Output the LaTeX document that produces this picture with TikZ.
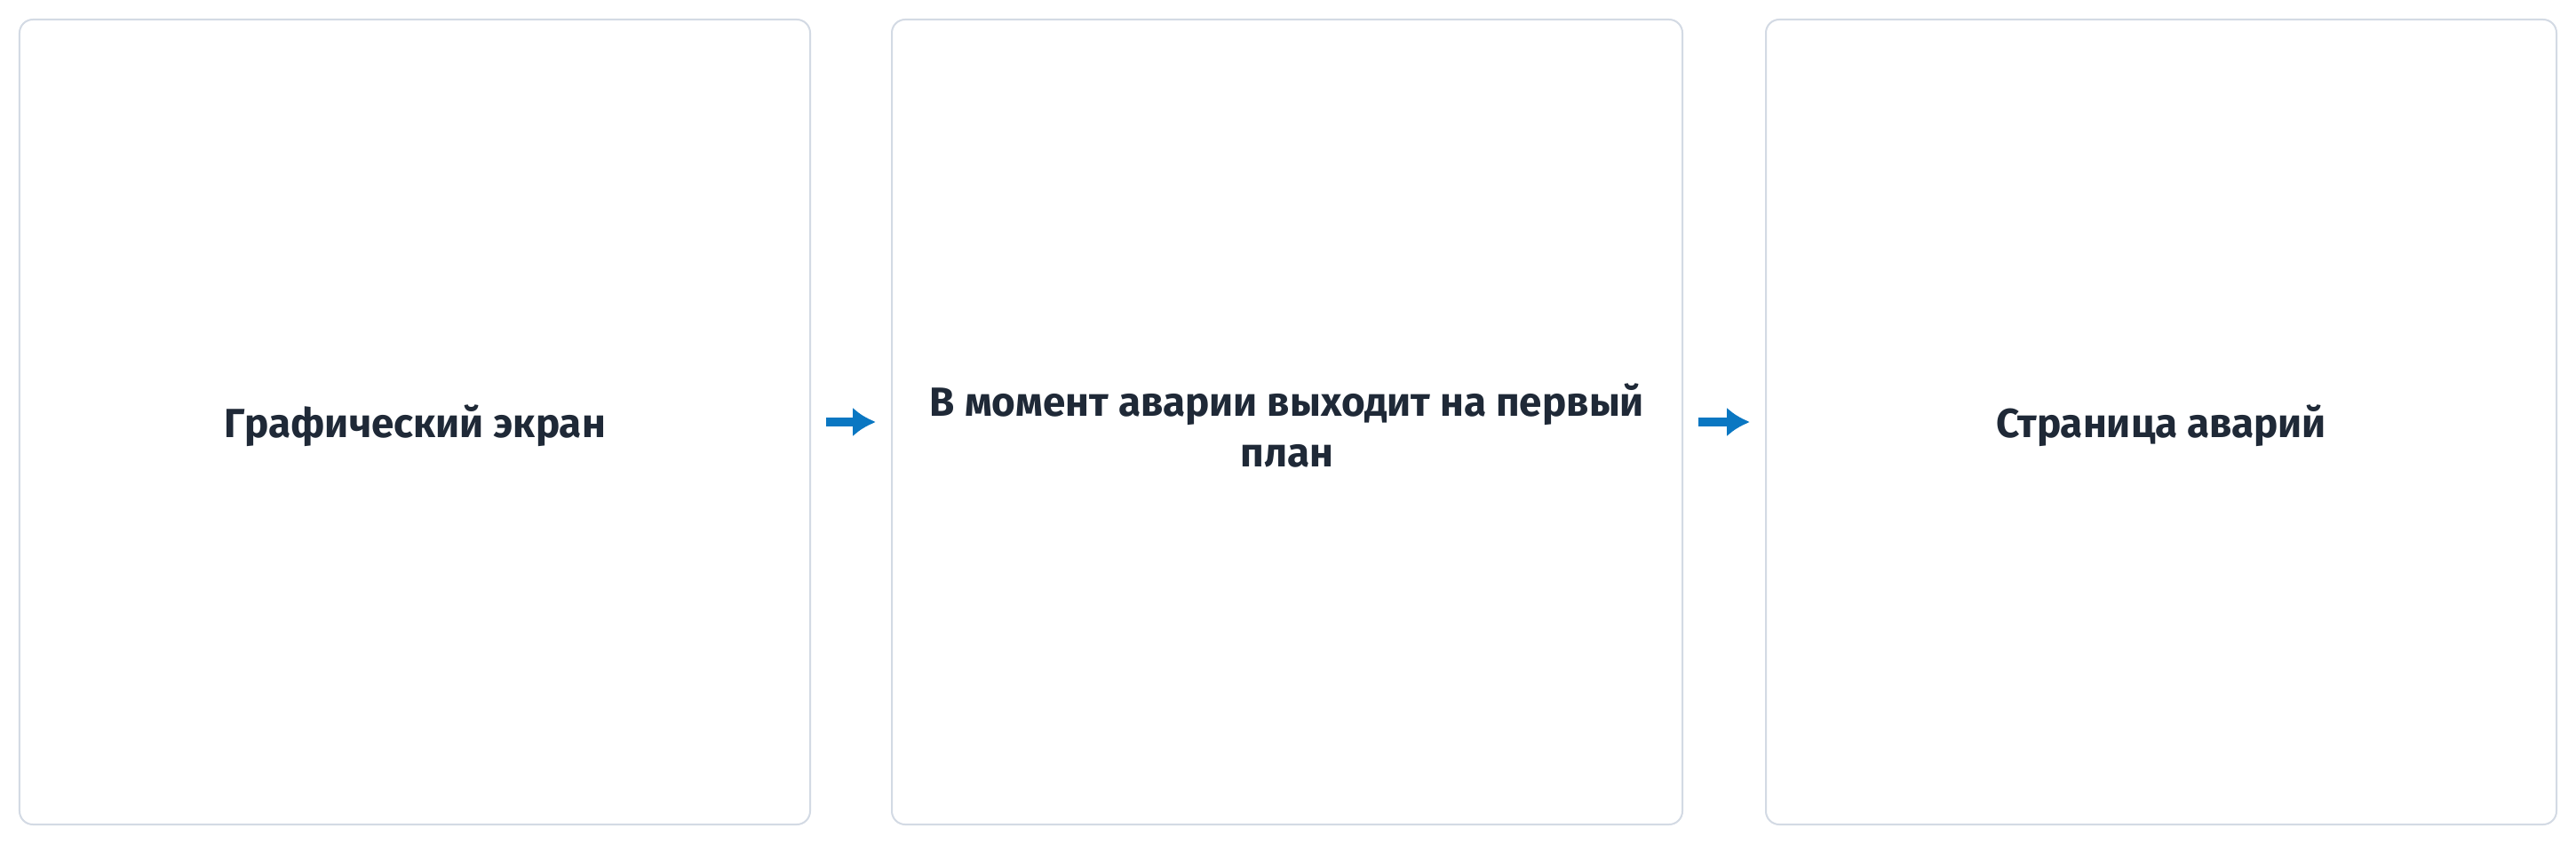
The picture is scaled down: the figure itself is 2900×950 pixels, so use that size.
\documentclass[tikz,border=0pt]{standalone}
\usepackage{fontspec}
\setmainfont{Fira Sans}
\usetikzlibrary{arrows.meta}
\definecolor{boxline}{HTML}{D3DAE4}
\definecolor{arrowblue}{HTML}{0A77C2}
\definecolor{textdark}{HTML}{1F2937}
\tikzset{
  panel/.style={draw=boxline, line width=2bp, fill=white, rounded corners=15bp,
    minimum width=890bp, minimum height=906bp, inner sep=0pt},
  paneltext/.style={text=textdark, font=\fontsize{46}{57}\selectfont\bfseries, align=center, inner sep=0pt, yshift=-4bp},
  flow/.style={draw=arrowblue, line width=10bp, -{Latex[length=26bp,width=33bp]}, shorten <=17bp, shorten >=17bp}
}
\begin{document}
\begin{tikzpicture}[x=1bp,y=-1bp]
\useasboundingbox[fill=white] (0,0) rectangle (2900,950);
\node[panel] (b1) at (467,475) {};
\node[panel] (b2) at (1449,475) {};
\node[panel] (b3) at (2433,475) {};
\node[paneltext] (t1) at (b1.center) {Графический экран};
\node[paneltext] (t2) at (b2.center) {В момент аварии выходит на первый\\план};
\node[paneltext] (t3) at (b3.center) {Страница аварий};
\draw[flow] (b1.east) -- (b2.west);
\draw[flow] (b2.east) -- (b3.west);
\end{tikzpicture}
\end{document}
